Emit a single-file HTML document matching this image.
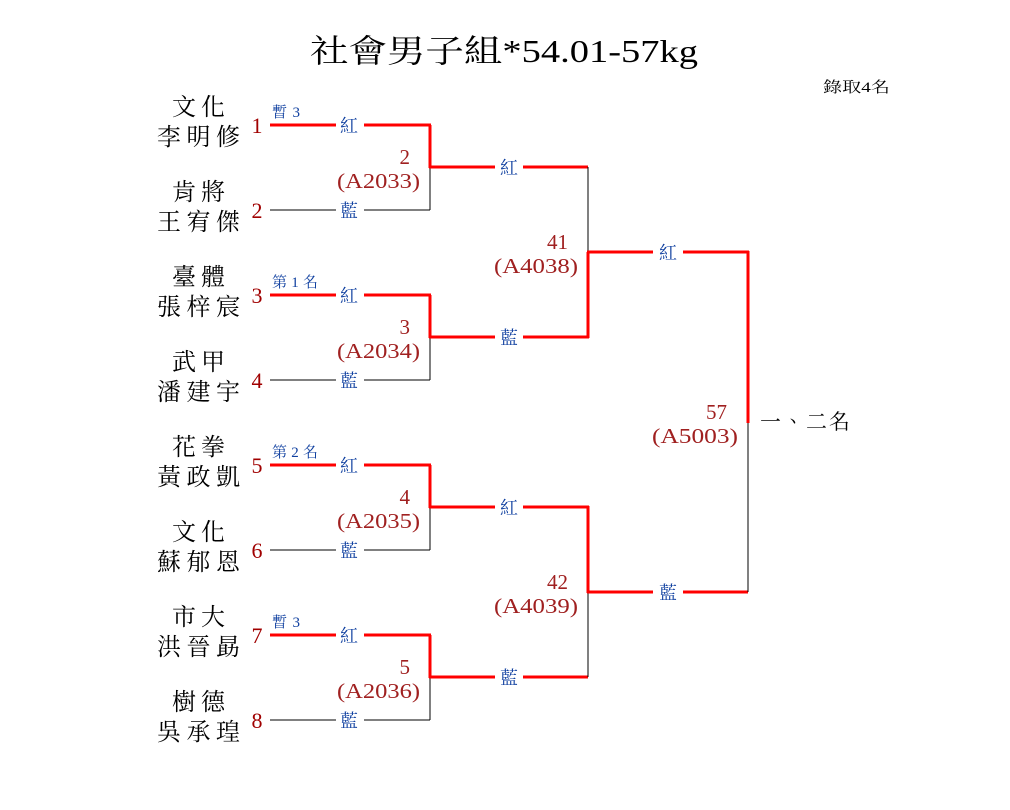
<!DOCTYPE html>
<html><head><meta charset="utf-8"><style>
html,body{margin:0;padding:0;background:#fff;}
svg text{font-family:"Liberation Serif","Noto Serif CJK TC","Noto Serif CJK SC",serif;}
</style></head><body>
<svg width="1010" height="805" xmlns="http://www.w3.org/2000/svg">
<text x="310" y="62" font-size="32" textLength="388" lengthAdjust="spacingAndGlyphs" fill="#000">社會男子組*54.01-57kg</text>
<text x="823" y="92" font-size="15" textLength="67" lengthAdjust="spacingAndGlyphs" fill="#000">錄取4名</text>

<g font-size="24" fill="#000">
<text x="172" y="115" textLength="53">文化</text><text x="157" y="145" textLength="83">李明修</text>
<text x="172" y="200" textLength="53">肯將</text><text x="157" y="230" textLength="83">王宥傑</text>
<text x="172" y="285" textLength="53">臺體</text><text x="157" y="315" textLength="83">張梓宸</text>
<text x="172" y="370" textLength="53">武甲</text><text x="157" y="400" textLength="83">潘建宇</text>
<text x="172" y="455" textLength="53">花拳</text><text x="157" y="485" textLength="83">黃政凱</text>
<text x="172" y="540" textLength="53">文化</text><text x="157" y="570" textLength="83">蘇郁恩</text>
<text x="172" y="625" textLength="53">市大</text><text x="157" y="655" textLength="83">洪晉勗</text>
<text x="172" y="710" textLength="53">樹德</text><text x="157" y="740" textLength="83">吳承瑝</text>
</g>
<g font-size="22" fill="#a00000" text-anchor="middle">
<text x="257" y="133">1</text><text x="257" y="218">2</text>
<text x="257" y="303">3</text><text x="257" y="388">4</text>
<text x="257" y="473">5</text><text x="257" y="558">6</text>
<text x="257" y="643">7</text><text x="257" y="728">8</text>
</g>
<g font-size="15" fill="#1040a0">
<text x="272" y="117" textLength="28">暫3</text><text x="272" y="287" textLength="46">第1名</text>
<text x="272" y="457" textLength="46">第2名</text><text x="272" y="627" textLength="28">暫3</text>
</g>

<g stroke-width="3" fill="none">
<line x1="270" y1="125" x2="431" y2="125" stroke="red"/>
<line x1="430" y1="125" x2="430" y2="168" stroke="red"/>
<line x1="270" y1="210" x2="430" y2="210" stroke="#000" stroke-width="1"/>
<line x1="430" y1="168" x2="430" y2="210" stroke="#000" stroke-width="1"/>
<line x1="270" y1="295" x2="431" y2="295" stroke="red"/>
<line x1="430" y1="295" x2="430" y2="338" stroke="red"/>
<line x1="270" y1="380" x2="430" y2="380" stroke="#000" stroke-width="1"/>
<line x1="430" y1="338" x2="430" y2="380" stroke="#000" stroke-width="1"/>
<line x1="270" y1="465" x2="431" y2="465" stroke="red"/>
<line x1="430" y1="465" x2="430" y2="508" stroke="red"/>
<line x1="270" y1="550" x2="430" y2="550" stroke="#000" stroke-width="1"/>
<line x1="430" y1="508" x2="430" y2="550" stroke="#000" stroke-width="1"/>
<line x1="270" y1="635" x2="431" y2="635" stroke="red"/>
<line x1="430" y1="635" x2="430" y2="678" stroke="red"/>
<line x1="270" y1="720" x2="430" y2="720" stroke="#000" stroke-width="1"/>
<line x1="430" y1="678" x2="430" y2="720" stroke="#000" stroke-width="1"/>
<line x1="429" y1="167" x2="588" y2="167" stroke="red"/>
<line x1="429" y1="337" x2="589" y2="337" stroke="red"/>
<line x1="588" y1="167" x2="588" y2="253" stroke="#000" stroke-width="1"/>
<line x1="588" y1="252" x2="588" y2="338" stroke="red"/>
<line x1="429" y1="507" x2="589" y2="507" stroke="red"/>
<line x1="429" y1="677" x2="588" y2="677" stroke="red"/>
<line x1="588" y1="506" x2="588" y2="593" stroke="red"/>
<line x1="588" y1="592" x2="588" y2="677" stroke="#000" stroke-width="1"/>
<line x1="587" y1="252" x2="749" y2="252" stroke="red"/>
<line x1="587" y1="592" x2="748" y2="592" stroke="red"/>
<line x1="748" y1="251" x2="748" y2="423" stroke="red"/>
<line x1="748" y1="423" x2="748" y2="592" stroke="#000" stroke-width="1"/>
</g>

<g font-size="18" fill="#1040a0" text-anchor="middle">
<g fill="#fff" stroke="none">
<rect x="336" y="114" width="28" height="22"/><rect x="336" y="199" width="28" height="22"/>
<rect x="336" y="284" width="28" height="22"/><rect x="336" y="369" width="28" height="22"/>
<rect x="336" y="454" width="28" height="22"/><rect x="336" y="539" width="28" height="22"/>
<rect x="336" y="624" width="28" height="22"/><rect x="336" y="709" width="28" height="22"/>
<rect x="495" y="156" width="28" height="22"/><rect x="495" y="326" width="28" height="22"/>
<rect x="495" y="496" width="28" height="22"/><rect x="495" y="666" width="28" height="22"/>
<rect x="653" y="241" width="30" height="22"/><rect x="653" y="581" width="30" height="22"/>
</g>
<text x="349" y="132">紅</text><text x="349" y="217">藍</text>
<text x="349" y="302">紅</text><text x="349" y="387">藍</text>
<text x="349" y="472">紅</text><text x="349" y="557">藍</text>
<text x="349" y="642">紅</text><text x="349" y="727">藍</text>
<text x="509" y="174">紅</text><text x="509" y="344">藍</text>
<text x="509" y="514">紅</text><text x="509" y="684">藍</text>
<text x="668" y="259">紅</text><text x="668" y="599">藍</text>
</g>

<g font-size="21" fill="#a02020" text-anchor="end">
<text x="410" y="164">2</text><text x="420" y="188" textLength="83" lengthAdjust="spacingAndGlyphs">(A2033)</text>
<text x="410" y="334">3</text><text x="420" y="358" textLength="83" lengthAdjust="spacingAndGlyphs">(A2034)</text>
<text x="410" y="504">4</text><text x="420" y="528" textLength="83" lengthAdjust="spacingAndGlyphs">(A2035)</text>
<text x="410" y="674">5</text><text x="420" y="698" textLength="83" lengthAdjust="spacingAndGlyphs">(A2036)</text>
<text x="568" y="249">41</text><text x="578" y="273" textLength="84" lengthAdjust="spacingAndGlyphs">(A4038)</text>
<text x="568" y="589">42</text><text x="578" y="613" textLength="84" lengthAdjust="spacingAndGlyphs">(A4039)</text>
<text x="727" y="419">57</text><text x="738" y="443" textLength="86" lengthAdjust="spacingAndGlyphs">(A5003)</text>
</g>
<text x="760" y="429" font-size="21" textLength="90" fill="#000">一、二名</text>
</svg>
</body></html>
